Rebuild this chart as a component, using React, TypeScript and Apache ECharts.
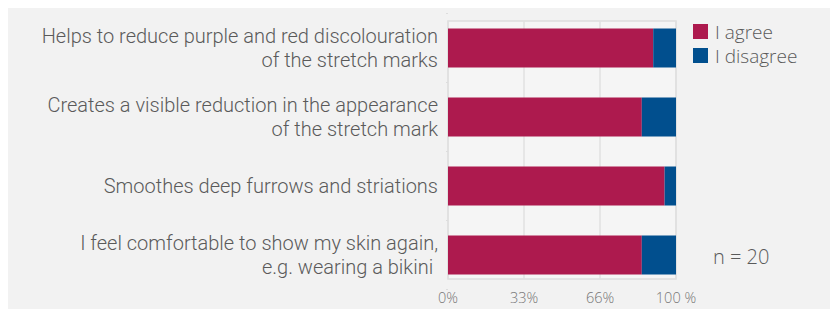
import React, { useEffect, useRef } from "react";
import * as echarts from "echarts";

const categories = [
  "Helps to reduce purple and red discolouration\nof the stretch marks",
  "Creates a visible reduction in the appearance\nof the stretch mark",
  "Smoothes deep furrows and striations",
  "I feel comfortable to show my skin again,\ne.g. wearing a bikini ",
];
const agree = [90, 85, 95, 85];
const disagree = [10, 15, 5, 15];
const seriesNames = ["I agree", "I disagree"];
const tickValues = [0, 33, 66, 99];
const tickLabels = ["0%", "33%", "66%", "100 %"];
const sampleNote = "n = 20";

const FONT = "'Open Sans', 'Noto Sans', sans-serif";
const LABEL_FONT = "Roboto, 'Open Sans', sans-serif";

export default function App() {
  const ref = useRef<HTMLDivElement>(null);
  useEffect(() => {
    if (!ref.current) return;
    const chart = echarts.init(ref.current, null, { renderer: "svg" });
    chart.setOption({
      animation: false,
      backgroundColor: "#f2f2f2",
      textStyle: { fontFamily: FONT },
      grid: [
        {
          left: 440,
          top: 13,
          width: 228,
          height: 258,
          show: true,
          borderColor: "#dddddd",
          borderWidth: 1.5,
          backgroundColor: "#f5f5f5",
          containLabel: false,
        },
        { left: 440, top: 5.5, width: 228, height: 276, containLabel: false },
      ],
      xAxis: [
        {
          type: "value",
          gridIndex: 0,
          min: 0,
          max: 99,
          interval: 33,
          axisLine: { show: false },
          axisTick: { show: false },
          splitLine: { show: true, lineStyle: { color: "#e0e0e0", width: 1.5 } },
          axisLabel: {
            color: "#777",
            fontSize: 14.5,
            fontWeight: 300,
            fontFamily: FONT,
            margin: 11,
            formatter: (v: number) => {
              const i = tickValues.indexOf(v);
              return i >= 0 ? tickLabels[i] : "";
            },
          },
        },
        { type: "value", gridIndex: 1, min: 0, max: 100, show: false },
      ],
      yAxis: [
        { type: "value", gridIndex: 0, show: false },
        {
          type: "category",
          gridIndex: 1,
          inverse: true,
          data: categories,
          axisLine: { show: false },
          axisTick: { show: true, length: 2, lineStyle: { color: "#dddddd" } },
          axisLabel: {
            color: "#5a5a5a",
            fontSize: 20,
            fontWeight: 300,
            lineHeight: 23.5,
            fontFamily: LABEL_FONT,
            margin: 10,
            align: "right",
          },
        },
      ],
      legend: {
        orient: "vertical",
        left: 680,
        top: 9,
        itemWidth: 15,
        itemHeight: 15,
        itemGap: 5,
        icon: "rect",
        data: seriesNames,
        textStyle: {
          color: "#5a5a5a",
          fontSize: 19,
          fontWeight: 300,
          fontFamily: FONT,
          padding: [0, 0, 0, 2],
        },
      },
      series: [
        {
          name: seriesNames[0],
          type: "bar",
          stack: "total",
          xAxisIndex: 1,
          yAxisIndex: 1,
          barWidth: 39,
          itemStyle: { color: "#ad1a4e" },
          data: agree,
        },
        {
          name: seriesNames[1],
          type: "bar",
          stack: "total",
          xAxisIndex: 1,
          yAxisIndex: 1,
          barWidth: 39,
          itemStyle: { color: "#014f8e" },
          data: disagree,
        },
      ],
      graphic: [
        {
          type: "text",
          left: 705,
          top: 238,
          style: { text: sampleNote, fill: "#5a5a5a", fontSize: 20, fontWeight: 300, fontFamily: FONT },
        },
      ],
    });
    return () => chart.dispose();
  }, []);
  return (
    <div
      style={{
        position: "fixed",
        left: 8,
        top: 8,
        width: 822,
        height: 301,
        background: "#f2f2f2",
      }}
    >
      <div ref={ref} style={{ width: 822, height: 301 }} />
    </div>
  );
}
